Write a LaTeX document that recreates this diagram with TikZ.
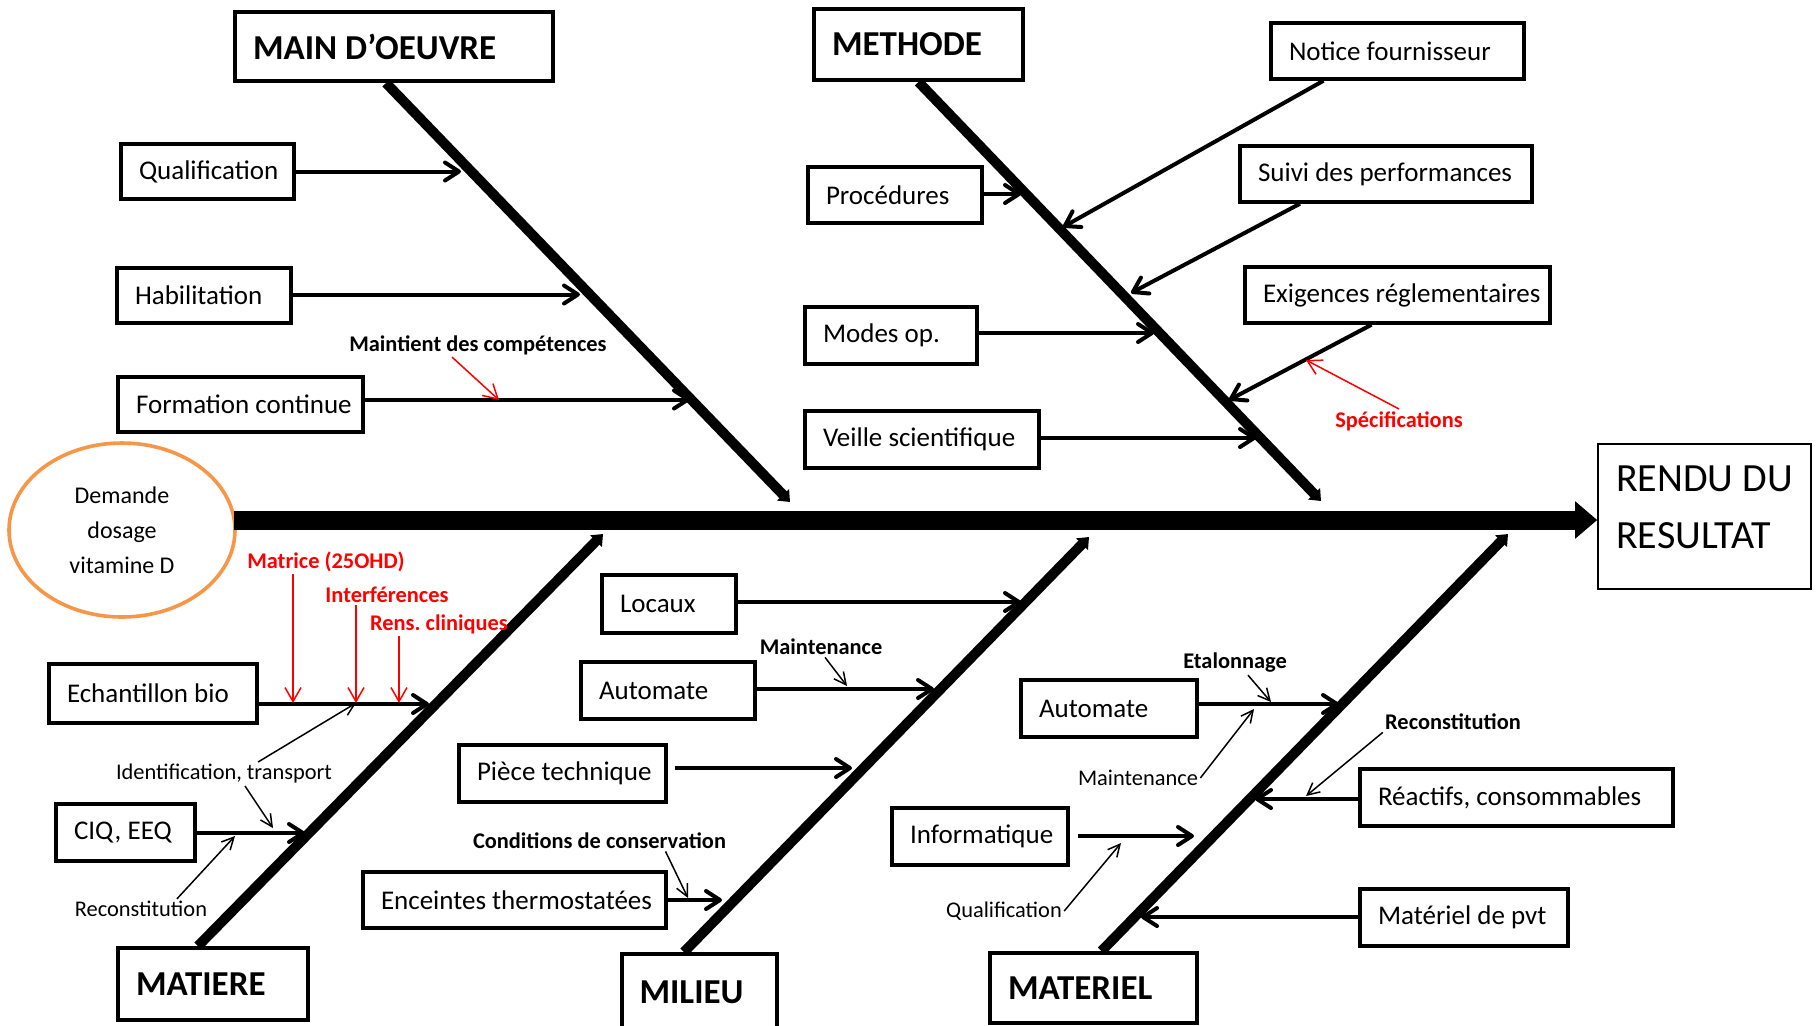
\documentclass[tikz,border=0pt]{standalone}
\usepackage{fontspec}
\setmainfont{Carlito}
\usetikzlibrary{arrows.meta,shapes.geometric}
\definecolor{ishiorange}{RGB}{247,150,70}
\frenchspacing
\tikzset{
    wh/.style 2 args={text width=#1*0.5pt, minimum height=#2*0.5pt},
    catbox/.style={draw, line width=2pt, inner sep=0pt, align=flush left,
    execute at begin node={\hspace*{9pt}},
    font=\bfseries\fontsize{17.5}{20}\selectfont},
    causebox/.style={draw, line width=1.7pt, inner sep=0pt, align=flush left,
    execute at begin node={\hspace*{9pt}},
    font=\fontsize{13.5}{16}\selectfont},
    lbl/.style={inner sep=1pt, font=\fontsize{11.2}{13}\selectfont},
    boldlbl/.style={inner sep=1pt, font=\bfseries\fontsize{11.2}{13}\selectfont},
    redlbl/.style={boldlbl, text=red},
    bone/.style={line width=5pt, -{Triangle[length=5pt,width=8pt]}},
    twig/.style={line width=2pt, -{Straight Barb[length=7pt,width=9pt,round]}},
    note/.style={line width=0.75pt, -{Straight Barb[length=6pt,width=6pt]}},
    rednote/.style={note, draw=red, -{Straight Barb[length=7pt,width=8pt]}}
}
\begin{document}
\begin{tikzpicture}[x=0.5pt, y=-0.5pt]
    \useasboundingbox (0,0) rectangle (1818,1025);

    % head and tail
    \node[ellipse, draw=ishiorange, line width=1.8pt, minimum width=113pt, minimum height=87pt,
        align=flush center, font=\fontsize{12}{17.5}\selectfont] (demande) at (122,530) {Demande\\dosage\\vitamine D};
    \node[draw, line width=0.8pt, minimum width=106.5pt, minimum height=72.5pt, align=flush left, text depth=9pt,
        font=\fontsize{20}{28.5}\selectfont] (rendu) at (1704.5,516.5) {RENDU DU\\RESULTAT};
    \coordinate (spine-s) at (234,520);
    \draw[line width=9.5pt, -{Triangle[length=11pt,width=18pt]}] (spine-s) -- (spine-s -| rendu.west);

    % categories
    \node[catbox, wh={318}{69}] (mo) at (394,46.5) {MAIN D’OEUVRE};
    \node[catbox, wh={209}{71}] (meth) at (918.5,44.5) {METHODE};
    \node[catbox, wh={190}{72}] (mat) at (213,984) {MATIERE};
    \node[catbox, wh={155}{76}] (mil) at (699,992) {MILIEU};
    \node[catbox, wh={207}{70}] (matl) at (1093.5,988) {MATERIEL};

    \coordinate (mo-e) at (790,502);
    \coordinate (meth-e) at (1321,501);
    \coordinate (mat-e) at (603,534);
    \coordinate (mil-e) at (1089,537);
    \coordinate (matl-e) at (1508,534);
    \draw[bone] ([xshift=-4pt]mo.south) -- (mo-e);
    \draw[bone] (meth.south) -- (meth-e);
    \draw[bone] ([xshift=-7.5pt]mat.north) -- (mat-e);
    \draw[bone] ([xshift=-7.5pt]mil.north) -- (mil-e);
    \draw[bone] ([xshift=4pt]matl.north) -- (matl-e);

    % causes
    \node[causebox, wh={173}{55}] (qual) at (207.5,171.5) {Qualification};
    \node[causebox, wh={174}{55}] (habil) at (204,295.5) {Habilitation};
    \node[causebox, wh={245}{55}] (form) at (240.5,404.5) {Formation continue};
    \node[causebox, wh={174}{56}] (proc) at (895,195) {Procédures};
    \node[causebox, wh={172}{57}] (modes) at (891,335.5) {Modes op.};
    \node[causebox, wh={234}{57}] (veille) at (922,439.5) {Veille scientifique};
    \node[causebox, wh={253}{56}] (notice) at (1397.5,51) {Notice fournisseur};
    \node[causebox, wh={292}{56}] (suivi) at (1386,174) {Suivi des performances};
    \node[causebox, wh={305}{56}] (exig) at (1397.5,295) {Exigences réglementaires};
    \node[causebox, wh={208}{59}] (ech) at (153,693.5) {Echantillon bio};
    \node[causebox, wh={139}{57}] (ciq) at (125.5,832.5) {CIQ, EEQ};
    \node[causebox, wh={134}{58}] (loc) at (669,604) {Locaux};
    \node[causebox, wh={174}{57}] (auto1) at (668,690.5) {Automate};
    \node[causebox, wh={207}{57}] (piece) at (562.5,773.5) {Pièce technique};
    \node[causebox, wh={303}{56}] (encein) at (514.5,900) {Enceintes thermostatées};
    \node[causebox, wh={176}{57}] (auto2) at (1109,708.5) {Automate};
    \node[causebox, wh={313}{57}] (reac) at (1516.5,797.5) {Réactifs, consommables};
    \node[causebox, wh={176}{57}] (info) at (980,836.5) {Informatique};
    \node[causebox, wh={208}{57}] (matpvt) at (1464,917.5) {Matériel de pvt};

    \foreach \c/\x/\y in {qual/461/171.5, habil/580/294.5, form/690/399.5,
        proc/1021/194, modes/1154/333, veille/1256/438, ech/429/704,
        ciq/305/833, loc/1021/602, auto1/934/689, encein/722/900, auto2/1339/704}{
        \coordinate (\c-t) at (\x,\y);
        \draw[twig] (\c.east |- \c-t) -- (\c-t);
    }
    \coordinate (piece-t) at (852,768);
    \coordinate (info-t) at (1194,836);
    \draw[twig, shorten <=3.5pt] (piece.east |- piece-t) -- (piece-t);
    \draw[twig, shorten <=4pt] (info.east |- info-t) -- (info-t);
    \coordinate (reac-t) at (1255,799);
    \coordinate (matpvt-t) at (1141,917);
    \draw[twig] (reac.west |- reac-t) -- (reac-t);
    \draw[twig] (matpvt.west |- matpvt-t) -- (matpvt-t);
    \coordinate (notice-t) at (1063,227);
    \coordinate (suivi-t) at (1131,293);
    \coordinate (exig-t) at (1229,400);
    \draw[twig] ([xshift=-37pt]notice.south) -- (notice-t);
    \draw[twig] ([xshift=-43pt]suivi.south) -- (suivi-t);
    \draw[twig] ([xshift=-13pt]exig.south) -- (exig-t);

    % sub causes
    \node[boldlbl] (maint) at (478,345) {Maintient des compétences};
    \node[redlbl] (spec) at (1399,421) {Spécifications};
    \node[redlbl] (matrice) at (326,562) {Matrice (25OHD)};
    \node[redlbl] (interf) at (387,595) {Interférences};
    \node[redlbl] (rens) at (439,624) {Rens. cliniques};
    \node[lbl] (ident) at (224,774) {Identification, transport};
    \node[lbl] (recon1) at (141,909) {Reconstitution};
    \node[boldlbl] (mnt1) at (821,647) {Maintenance};
    \node[boldlbl] (cond) at (599.5,841) {Conditions de conservation};
    \node[boldlbl] (etal) at (1235,663) {Etalonnage};
    \node[lbl] (mnt2) at (1138,778) {Maintenance};
    \node[boldlbl] (recon2) at (1453,722) {Reconstitution};
    \node[lbl] (qual2) at (1004,911) {Qualification};

    \coordinate (maint-t) at (499,400);
    \coordinate (spec-t) at (1306,360);
    \draw[rednote] ([xshift=-13pt]maint.south) -- (maint-t);
    \draw[rednote] (spec.north) -- (spec-t);
    \foreach \lab/\x in {matrice/293, interf/356, rens/399}{
        \coordinate (\lab-t) at (\x,703);
        \draw[rednote] (\lab-t |- \lab.south) -- (\lab-t);
    }

    \coordinate (ident-t) at (273,828);
    \coordinate (recon1-t) at (235,836);
    \coordinate (mnt1-t) at (847,686);
    \coordinate (cond-t) at (688,898);
    \coordinate (etal-t) at (1271,702);
    \coordinate (mnt2-t) at (1254,709);
    \coordinate (recon2-t) at (1306,796);
    \coordinate (qual2-t) at (1121,843);
    \draw[note] ([xshift=17pt]ident.north) -- (interf-t);
    \draw[note] ([xshift=10.5pt]ident.south) -- (ident-t);
    \draw[note] ([xshift=18pt]recon1.north) -- (recon1-t);
    \draw[note] ([xshift=2pt]mnt1.south) -- (mnt1-t);
    \draw[note] ([xshift=33pt]cond.south) -- (cond-t);
    \draw[note] ([xshift=6.5pt]etal.south) -- (etal-t);
    \draw[note] (mnt2.east) -- (mnt2-t);
    \draw[note] (recon2.south west) -- (recon2-t);
    \draw[note] (qual2.east) -- (qual2-t);
\end{tikzpicture}
\end{document}
